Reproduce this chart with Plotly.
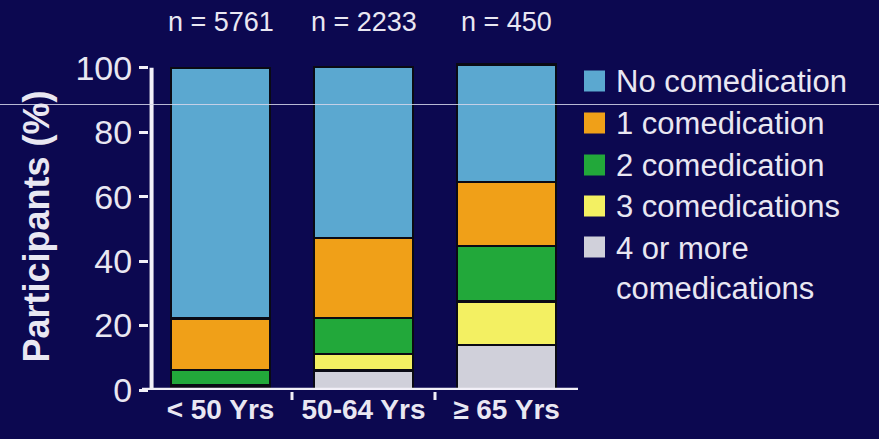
import plotly.graph_objects as go

# Age groups and stacked shares of participants (%) by number of comedications
age_groups = ["< 50 Yrs", "50-64 Yrs", "≥ 65 Yrs"]
group_sizes = ["n = 5761", "n = 2233", "n = 450"]

series_names = ["No comedication", "1 comedication", "2 comedication",
                "3 comedications", "4 or more<br>comedications"]
no_comed = [77.8, 53.0, 36.5]
one_comed = [16.0, 24.8, 19.8]
two_comed = [4.8, 11.2, 17.3]
three_comed = [0.7, 5.2, 13.5]
four_plus_comed = [0.7, 6.0, 13.9]

colors = ["#5ba8d0", "#f0a018", "#22a83a", "#f3f062", "#d0d0da"]
y_ticks = [0, 20, 40, 60, 80, 100]

W, H = 879, 439
ML, MR, MT, MB = 149, 301, 63, 49
PW, PH = W - ML - MR, H - MT - MB
TXT = "#e9e7f2"
BG = "#0c0850"
FONT = "Liberation Sans, Arial, sans-serif"


def px(x):
    return (x - ML) / PW


def py(y):
    return (H - MB - y) / PH


fig = go.Figure()
# stacked from the bottom: 4+, 3, 2, 1, none
stack = [
    (series_names[4], four_plus_comed, colors[4]),
    (series_names[3], three_comed, colors[3]),
    (series_names[2], two_comed, colors[2]),
    (series_names[1], one_comed, colors[1]),
    (series_names[0], no_comed, colors[0]),
]
for name, vals, col in stack:
    fig.add_trace(go.Bar(
        x=age_groups, y=vals, name=name, marker_color=col,
        marker_line=dict(color="#0a0a14", width=2.5),
        width=0.69, showlegend=False,
    ))

shapes = [
    # y axis line up to 100
    dict(type="line", xref="paper", yref="y", x0=0.006, x1=0.006, y0=-0.3, y1=100,
         line=dict(color="#f2f0f8", width=4)),
    # x axis line
    dict(type="line", xref="paper", yref="y", x0=px(142), x1=1.0, y0=0, y1=0,
         line=dict(color="#f2f0f8", width=4.5)),
]
# small ticks between the groups
for b in [0.5, 1.5]:
    shapes.append(dict(type="line", xref="x", yref="paper", x0=b, x1=b,
                       y0=py(392), y1=py(400), line=dict(color="#f2f0f8", width=3)))
# faint horizontal streak across the figure
shapes.append(dict(type="line", xref="paper", yref="paper", x0=px(0), x1=px(W),
                   y0=py(104.5), y1=py(104.5),
                   line=dict(color="rgba(215,215,235,0.85)", width=1)))

annotations = []
# group sizes above the bars
for i, lab in enumerate(group_sizes):
    annotations.append(dict(x=i, xref="x", y=py(22), yref="paper", text=lab,
                            showarrow=False, xanchor="center", yanchor="middle",
                            font=dict(family=FONT, size=27, color=TXT)))

# legend drawn as swatches + labels
leg_y = [81, 123, 165, 206, 247]
for name, col, yc in zip(series_names, colors, leg_y):
    shapes.append(dict(type="rect", xref="paper", yref="paper",
                       x0=px(584), x1=px(605), y0=py(yc - 10.5), y1=py(yc + 10.5),
                       fillcolor=col, line=dict(width=0)))
    annotations.append(dict(x=px(614), xref="paper", y=py(yc), yref="paper",
                            text=name, showarrow=False, xanchor="left",
                            yanchor="top" if "<br>" in name else "middle",
                            yshift=18 if "<br>" in name else 0,
                            align="left",
                            font=dict(family=FONT, size=31, color=TXT)))

fig.update_layout(
    width=W, height=H,
    margin=dict(l=ML, r=MR, t=MT, b=MB),
    paper_bgcolor=BG, plot_bgcolor=BG,
    barmode="stack", bargap=0.3,
    showlegend=False,
    shapes=shapes, annotations=annotations,
    xaxis=dict(type="category", range=[-0.5, 2.5], showline=False, showgrid=False,
               zeroline=False, ticks="",
               tickfont=dict(family=FONT, size=28, color=TXT, weight="bold")),
    yaxis=dict(range=[0, 101.5], tickvals=y_ticks, showline=False, showgrid=False,
               zeroline=False, ticks="outside", ticklen=9, tickwidth=3,
               tickcolor="#f2f0f8",
               tickfont=dict(family=FONT, size=34, color=TXT),
               title=dict(text="Participants (%)", standoff=14,
                          font=dict(family=FONT, size=36, color=TXT, weight="bold"))),
)

fig.write_html("out.html")
